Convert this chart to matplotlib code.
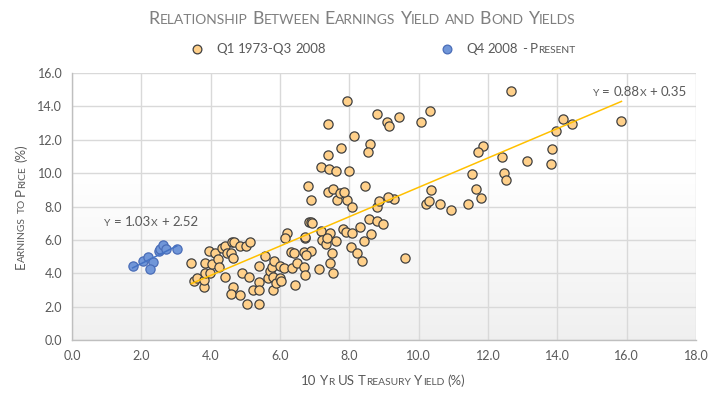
import numpy as np
import matplotlib
matplotlib.use('Agg')
import matplotlib.pyplot as plt
from matplotlib.transforms import offset_copy

# Q1 1973 - Q3 2008: 10 yr treasury yield vs earnings to price
hist_x = [3.44, 3.52, 3.62, 3.81, 3.81, 3.84, 3.84, 3.94, 3.98, 4.03, 4.13, 4.21, 4.24, 4.34,
          4.40, 4.42, 4.47, 4.59, 4.63, 4.61, 4.66, 4.64, 4.58, 4.85, 4.85, 4.90, 5.02, 5.14,
          5.11, 5.04, 5.22, 5.39, 5.39, 5.39, 5.40, 5.57, 5.64, 5.72, 5.77, 5.81, 5.80, 5.83,
          5.89, 6.01, 6.03, 6.01, 6.12, 6.20, 6.15, 6.32, 6.36, 6.44, 6.39, 6.49, 6.70, 6.71,
          6.70, 6.73, 6.85,
          6.89, 7.64, 7.93, 8.08, 8.80, 9.30, 10.22, 6.90, 6.92, 6.71, 7.18, 7.45, 7.21, 7.33,
          7.35, 7.61, 7.82, 7.91, 8.08, 8.32, 8.56, 8.80, 8.97, 8.63, 8.43, 8.05, 8.22, 8.37,
          9.62, 7.50, 7.45, 7.53, 7.13, 6.89, 6.76,
          7.93, 7.38, 8.14, 8.59, 8.54, 7.76, 7.39, 7.18, 7.42, 7.62, 7.99, 6.81, 7.38, 7.53,
          7.72, 7.85, 8.46,
          8.80, 9.09, 9.15, 9.44, 10.07, 10.32, 8.86, 9.12, 11.86, 11.71, 11.54, 11.64, 11.80,
          11.43, 10.92, 10.61, 10.36, 10.31,
          12.41, 13.13, 13.85, 13.82, 12.47, 12.53,
          14.17, 14.43, 13.97, 15.85, 12.65]
hist_y = [4.60, 3.53, 3.70, 3.16, 3.60, 4.00, 4.63, 5.35, 4.03, 4.53, 5.23, 4.85, 4.39, 5.49,
          5.65, 3.79, 5.19, 5.19, 4.89, 5.89, 5.85, 3.16, 2.76, 2.70, 5.65, 4.00, 5.65, 5.89,
          3.79, 2.16, 3.00, 3.49, 3.00, 2.16, 4.45, 5.05, 3.70, 4.13, 4.39, 3.79, 3.00, 4.73,
          3.43, 3.70, 3.53, 4.43, 4.30, 6.39, 6.09, 5.29, 4.30, 3.30, 5.23, 4.60, 4.39, 3.89,
          5.29, 6.09, 7.09,
          8.39, 8.39, 8.39, 7.95, 7.95, 8.45, 8.17, 7.07, 7.00, 6.15, 6.55, 6.43, 5.99, 5.73,
          6.09, 5.95, 6.65, 6.45, 6.43, 6.79, 7.23, 7.15, 6.93, 6.35, 5.95, 5.59, 5.23, 4.75,
          4.93, 5.23, 4.63, 4.03, 4.23, 5.35, 5.09,
          14.34, 12.94, 12.24, 11.74, 11.28, 11.48, 11.08, 10.38, 10.25, 10.15, 10.15, 9.25, 8.89, 9.05,
          8.83, 8.89, 9.25,
          13.54, 13.08, 12.84, 13.38, 13.08, 13.74, 8.35, 8.59, 11.64, 11.28, 9.95, 9.05, 8.53,
          8.17, 7.79, 8.13, 8.99, 8.35,
          10.94, 10.74, 11.44, 10.55, 9.99, 9.59,
          13.22, 12.92, 12.54, 13.14, 14.94]

# Q4 2008 - present
recent_x = [1.75, 2.04, 2.18, 2.33, 2.25, 2.50, 2.55, 2.62, 2.71, 3.02]
recent_y = [4.43, 4.75, 4.99, 4.65, 4.25, 5.35, 5.45, 5.67, 5.43, 5.47]

# trendline coefficients shown on the chart
hist_fit = (0.88, 0.35)
recent_fit = (1.03, 2.52)

x_ticks = np.arange(0, 18.1, 2)
y_ticks = np.arange(0, 16.1, 2)

FONT = 'Lato'
GREY = '#595959'


def small_caps(fig, x, y, s, size, color, transform=None, ha='center', rotation=0):
    """Fake small caps: upper-case letters at full size, lower-case letters as smaller capitals."""
    transform = transform if transform is not None else fig.transFigure
    renderer = fig.canvas.get_renderer()
    small = size * 0.78
    runs = []
    for ch in s:
        kind = 'space' if ch == ' ' else ('small' if ch.islower() else 'big')
        if runs and runs[-1][1] == kind and kind != 'space':
            runs[-1][0] += ch
        else:
            runs.append([ch, kind])
    pieces = []
    for txt, kind in runs:
        if kind == 'space':
            pieces.append((None, size * 0.26 * fig.dpi / 72))
            continue
        t = fig.text(0, 0, txt.upper(), fontsize=size if kind == 'big' else small,
                     color=color, family=FONT, rotation=rotation, rotation_mode='anchor',
                     ha='left', va='baseline')
        bb = t.get_window_extent(renderer)
        pieces.append((t, bb.width if rotation == 0 else bb.height))
    total = sum(w for _, w in pieces)
    off = {'center': -total / 2, 'left': 0, 'right': -total}[ha]
    for t, w in pieces:
        if t is not None:
            if rotation == 0:
                tr = offset_copy(transform, fig=fig, x=off, y=0, units='dots')
            else:
                tr = offset_copy(transform, fig=fig, x=0, y=off, units='dots')
            t.set_position((x, y))
            t.set_transform(tr)
        off += w


fig = plt.figure(figsize=(7.24, 3.98), dpi=100)
ax = fig.add_axes([72 / 724, 58 / 398, 624 / 724, 267 / 398])

# soft gradient in the plot area (white at top, light grey at bottom)
grad = np.linspace(1.0, 0.0, 256).reshape(-1, 1)
grad = np.clip(grad * 1.6, 0, 1)
img = np.ones((256, 1, 3)) * (0.94 + 0.06 * grad)[:, :, None]
ax.imshow(img, extent=[0, 18, 0, 16], aspect='auto', zorder=0)

ax.set_xlim(0, 18)
ax.set_ylim(0, 16)
ax.set_xticks(x_ticks)
ax.set_yticks(y_ticks)
ax.set_xticklabels([f'{v:.1f}' for v in x_ticks], family=FONT, fontsize=9, color=GREY)
ax.set_yticklabels([f'{v:.1f}' for v in y_ticks], family=FONT, fontsize=9, color=GREY)
ax.tick_params(length=0, pad=7)
ax.grid(True, color='#d9d9d9', linewidth=1)
ax.set_axisbelow(True)
for side in ['top', 'right']:
    ax.spines[side].set_visible(False)
for side in ['left', 'bottom']:
    ax.spines[side].set_color('#bfbfbf')
    ax.spines[side].set_linewidth(1)

ax.scatter(hist_x, hist_y, s=44, color='#FFD08A', edgecolor='#404040', linewidth=0.9, zorder=3)
ax.scatter(recent_x, recent_y, s=44, color='#7096d8', edgecolor='#4a6db8', linewidth=0.9, zorder=3)

hx = np.array([min(hist_x), max(hist_x)])
ax.plot(hx, hist_fit[0] * hx + hist_fit[1], color='#FFC000', linewidth=1.1, zorder=4)
rx = np.array([min(recent_x), max(recent_x)])
ax.plot(rx, recent_fit[0] * rx + recent_fit[1], color='#4472C4', linewidth=1.1, zorder=4)

fig.canvas.draw()

small_caps(fig, 362 / 724, 1 - 24 / 398, 'Relationship Between Earnings Yield and Bond Yields', 12.8, '#7f7f7f')

# legend
fig.lines.append(plt.Line2D([197 / 724], [1 - 49 / 398], transform=fig.transFigure, marker='o',
                            markersize=6.3, markerfacecolor='#FFD08A', markeredgecolor='#404040',
                            markeredgewidth=0.9, linestyle='none'))
fig.lines.append(plt.Line2D([447 / 724], [1 - 49 / 398], transform=fig.transFigure, marker='o',
                            markersize=6.3, markerfacecolor='#7096d8', markeredgecolor='#4a6db8',
                            markeredgewidth=0.9, linestyle='none'))
small_caps(fig, 216 / 724, 1 - 53 / 398, 'Q1 1973-Q3 2008', 9.5, GREY, ha='left')
small_caps(fig, 466 / 724, 1 - 53 / 398, 'Q4 2008 - Present', 9.5, GREY, ha='left')

# axis titles
small_caps(fig, 383 / 724, 1 - 385 / 398, '10 Yr US Treasury Yield (%)', 9.5, GREY)
small_caps(fig, 25 / 724, 1 - 207 / 398, 'Earnings to Price (%)', 9.5, GREY, rotation=90)

# trendline equations
small_caps(fig, 687 / 724, 1 - 96 / 398, f'y = {hist_fit[0]:.2f}x + {hist_fit[1]:.2f}', 9.5, GREY, ha='right')
small_caps(fig, 104 / 724, 1 - 226 / 398, f'y = {recent_fit[0]:.2f}x + {recent_fit[1]:.2f}', 9.5, GREY, ha='left')

fig.savefig('out.png', dpi=100)
